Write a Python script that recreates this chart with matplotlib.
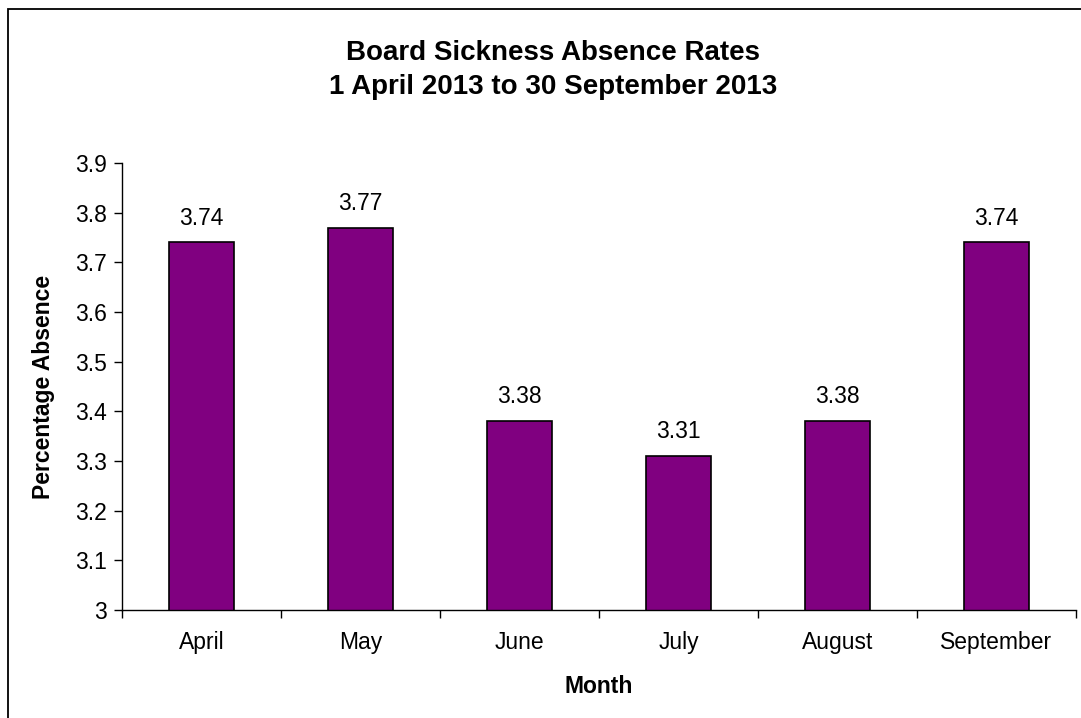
import matplotlib.pyplot as plt
from matplotlib.patches import Rectangle
import numpy as np

months = ["April", "May", "June", "July", "August", "September"]
absence = [3.74, 3.77, 3.38, 3.31, 3.38, 3.74]
yticks = [3, 3.1, 3.2, 3.3, 3.4, 3.5, 3.6, 3.7, 3.8, 3.9]
ytick_labels = ["3", "3.1", "3.2", "3.3", "3.4", "3.5", "3.6", "3.7", "3.8", "3.9"]

plt.rcParams['font.family'] = ['Liberation Sans', 'DejaVu Sans']

W, H = 1081, 718
fig = plt.figure(figsize=(W / 100, H / 100), dpi=100)

# chart area border (runs off the right/bottom edge)
fig.patches.append(Rectangle((8 / W, -0.05), 1.2, 1 - 9 / H + 0.05, transform=fig.transFigure,
                             fill=False, edgecolor='black', linewidth=1.3))

left, right, top, bottom = 122, 1076, 163, 610
ax = fig.add_axes([left / W, 1 - bottom / H, (right - left) / W, (bottom - top) / H])

fs = 16.5
x = np.arange(len(months))
bars = ax.bar(x, absence, width=0.41, bottom=0, color='#800080', edgecolor='black', linewidth=1.2)
for xi, v in zip(x, absence):
    ax.text(xi, v + 0.026, f"{v:.2f}", ha='center', va='bottom', fontsize=fs)

ax.set_xlim(-0.5, len(months) - 0.5)
ax.set_ylim(3, 3.9)
ax.set_yticks(yticks)
ax.set_yticklabels(ytick_labels, fontsize=fs)
ax.set_xticks(x)
ax.set_xticklabels(months, fontsize=fs)
ax.tick_params(axis='x', length=0, pad=15)
ax.set_xticks(np.arange(-0.5, len(months)), minor=True)
ax.tick_params(axis='x', which='minor', length=6, direction='out', width=1)
ax.tick_params(axis='y', length=6, direction='out', width=1, pad=5)

for s in ['top', 'right']:
    ax.spines[s].set_visible(False)
for s in ['left', 'bottom']:
    ax.spines[s].set_linewidth(1)

ax.set_xlabel("Month", fontsize=fs, fontweight='bold', labelpad=15)
ax.set_ylabel("Percentage Absence", fontsize=fs, fontweight='bold', labelpad=14)

fig.text(553 / W, 1 - 70 / H, "Board Sickness Absence Rates\n1 April 2013 to 30 September 2013",
         ha='center', va='center', fontsize=20, fontweight='bold', linespacing=1.4)

fig.savefig("out.png", dpi=100)
